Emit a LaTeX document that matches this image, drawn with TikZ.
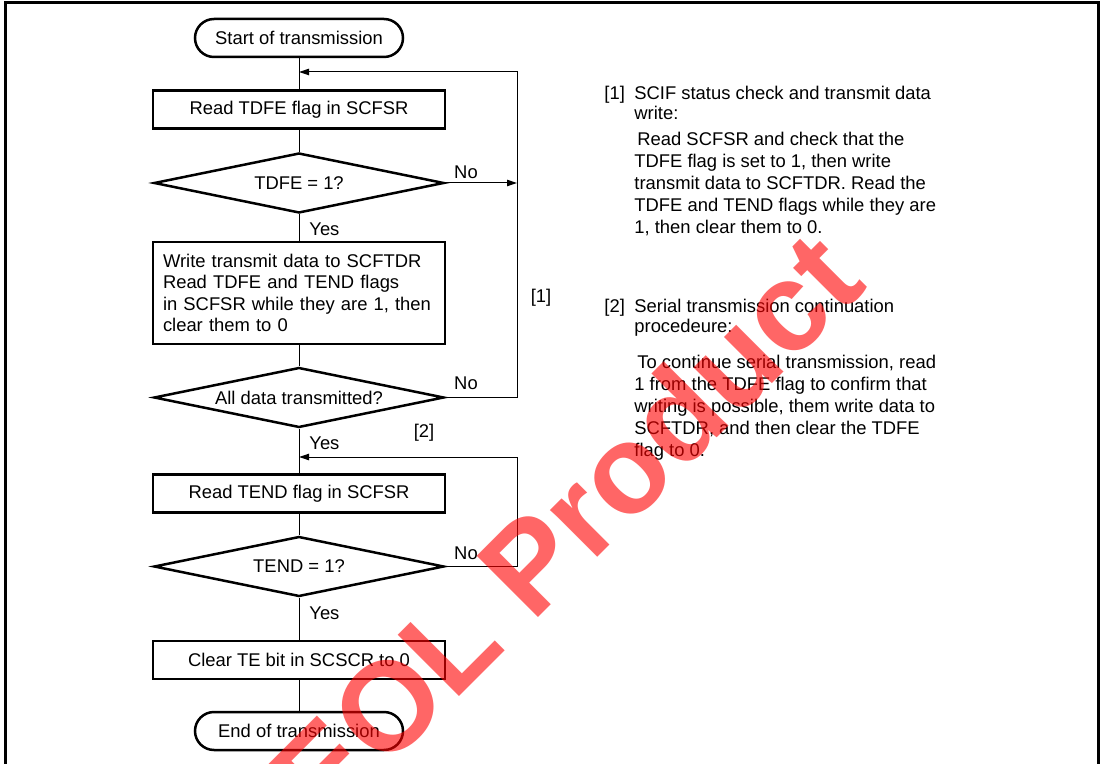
\documentclass[tikz,border=0pt]{standalone}
\usepackage{fontspec}
\setmainfont{Liberation Sans}
\usetikzlibrary{shapes.geometric,arrows.meta}
\begin{document}
\begin{tikzpicture}[x=0.5pt,y=-0.5pt, every node/.style={font=\fontsize{9.2}{10.75}\selectfont},
  term/.style={draw,line width=1.25pt,rectangle,rounded corners=9.5pt,minimum width=104pt,minimum height=19pt,inner sep=0pt},
  proc/.style={draw,line width=1.25pt,rectangle,minimum width=146pt,minimum height=19pt,inner sep=0pt},
  decide/.style={draw,line width=1.25pt,diamond,aspect=4.8,minimum width=145pt,minimum height=30pt,inner sep=0pt},
  flow/.style={line width=0.5pt},
  loopback/.style={line width=0.5pt,-{Triangle[length=5pt,width=3.2pt]}},
  lab/.style={inner sep=0pt},
  note/.style={inner sep=0pt,anchor=base west,align=left}]
  \clip (0,0) rectangle (1102,764);
  % frame
  \draw[line width=1.5pt] (5,770) -- (5,3) -- (1098,3) -- (1098,770);
  % main column
  \node[term] (start) at (299,38) {Start of transmission};
  \node[proc] (rdfe) at (299,109.5) {Read TDFE flag in SCFSR};
  \node[decide] (qtdfe) at (299,183) {TDFE = 1?};
  \node[proc,minimum height=51pt,text width=136pt,inner xsep=5pt,align=left] (wrdata) at (299,293)
    {Write transmit data to SCFTDR\\Read TDFE and TEND flags\\in SCFSR while they are 1, then\\clear them to 0};
  \node[decide] (qall) at (299,397.5) {All data transmitted?};
  \node[proc] (rdend) at (299,493.5) {Read TEND flag in SCFSR};
  \node[decide] (qtend) at (299,566.5) {TEND = 1?};
  \node[proc] (clrte) at (299,660) {Clear TE bit in SCSCR to 0};
  \node[term] (stop) at (299,731) {End of transmission};
  \draw[flow] (start) -- (rdfe);
  \draw[flow] (rdfe) -- (qtdfe);
  \draw[flow] (qtdfe) -- (wrdata);
  \draw[flow] (wrdata) -- (qall);
  \draw[flow] (qall) -- (rdend);
  \draw[flow] (rdend) -- (qtend);
  \draw[flow] (qtend) -- (clrte);
  \draw[flow] (clrte) -- (stop);
  % loops back
  \coordinate (in1) at (299,72);
  \coordinate (up1) at (517,72);
  \coordinate (in2) at (299,457);
  \coordinate (up2) at (517,457);
  \draw[loopback] (qtdfe.east) -- (qtdfe.east -| up1);
  \draw[loopback] (qall.east) -- (qall.east -| up1) -- (up1) -- (in1);
  \draw[loopback] (qtend.east) -- (qtend.east -| up2) -- (up2) -- (in2);
  % labels
  \node[lab,anchor=west] (yes1) at (309,229) {Yes};
  \node[lab,anchor=west] (yes2) at (309,443) {Yes};
  \node[lab,anchor=west] (yes3) at (309,613) {Yes};
  \node[lab] (no1) at (466,172) {No};
  \node[lab] (no2) at (466,383) {No};
  \node[lab] (no3) at (466,553) {No};
  \node[lab] (mk1) at (541,298) {[1]};
  \node[lab] (mk2) at (424,433) {[2]};
  % notes (base = last line)
  \node[note] (n1) at (604,100) {[1]};
  \node[note,font=\fontsize{9.2}{10}\selectfont] (n1head) at (634,120) {SCIF status check and transmit data\\write:};
  \node[note,font=\fontsize{9.2}{11}\selectfont] (n1text) at (634,234)
    {\hspace*{1.5pt}Read SCFSR and check that the\\TDFE flag is set to 1, then write\\transmit data to SCFTDR. Read the\\TDFE and TEND flags while they are\\1, then clear them to 0.};
  \node[note] (n2) at (604,312.5) {[2]};
  \node[note,font=\fontsize{9.2}{10}\selectfont] (n2head) at (634,332.5) {Serial transmission continuation\\procedeure:};
  \node[note,font=\fontsize{9.2}{11}\selectfont] (n2text) at (634,456.5)
    {\hspace*{1.5pt}To continue serial transmission, read\\1 from the TDFE flag to confirm that\\writing is possible, them write data to\\SCFTDR, and then clear the TDFE\\flag to 0.};
  % watermark
  \node[rotate=45,text=red,opacity=0.6,inner sep=0pt,font=\fontsize{63}{63}\selectfont\bfseries] (mark) at (565,527) {EOL Product};
\end{tikzpicture}
\end{document}
